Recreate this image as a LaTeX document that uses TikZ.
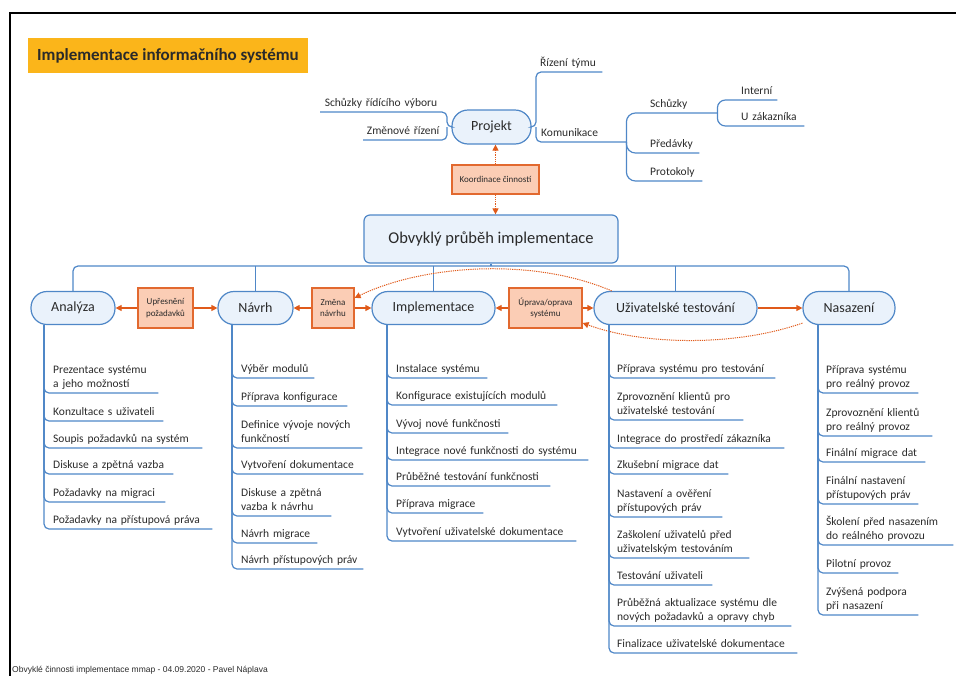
\documentclass[tikz,border=0pt]{standalone}
\usepackage{fontspec}
\setmainfont{Carlito}
\newfontfamily\footfont{Liberation Sans}
\usetikzlibrary{arrows.meta}

\definecolor{mapblue}{HTML}{4F87C7}
\definecolor{nodefill}{HTML}{EAF2FB}
\definecolor{arrowc}{HTML}{E05A1A}
\definecolor{boxfill}{HTML}{FBCDB5}
\definecolor{boxline}{HTML}{E2692F}
\definecolor{titlefill}{HTML}{FBB51A}
\definecolor{textc}{HTML}{2A2A2A}

\begin{document}
\begin{tikzpicture}[x=1pt, y=-1pt,
    branch/.style={draw=mapblue, line width=1.2pt, rounded corners=5pt},
    phase/.style={draw=mapblue, fill=nodefill, line width=1.2pt, rounded corners=16pt,
      minimum height=33pt, font=\fontsize{14}{16}\selectfont, text=textc},
    change/.style={draw=boxline, fill=boxfill, line width=1.2pt, inner sep=1pt,
      minimum height=40pt, align=center, font=\fontsize{9}{11.5}\selectfont, text=textc},
    item/.style={anchor=south west, align=left, inner xsep=0pt, inner ysep=1pt,
      font=\fontsize{11.5}{14}\selectfont, text=textc, execute at end node=\strut},
    flow/.style={draw=arrowc, line width=1.2pt, -{Triangle[length=6pt, width=6pt]}},
    loopback/.style={flow, densely dotted, line width=1pt}]

  \useasboundingbox (0,0) rectangle (956,675);

  % page frame
  \draw [line width=1.5pt] (10,690) -- (10,13) -- (970,13);

  % title
  \node [fill=titlefill, minimum width=280pt, minimum height=35pt, inner sep=2pt,
    font=\fontsize{17}{20}\bfseries\selectfont, text=textc] (title) at (168,55.5)
    {Implementace informačního systému};

  % project part
  \node [phase, minimum width=79pt, minimum height=34pt] (prj) at (491.5,127) {Projekt};
  \node [change, minimum width=87pt, minimum height=29pt] (koord) at (495.5,179.5)
    {Koordinace činností};
  \node [draw=mapblue, fill=nodefill, line width=1.2pt, rounded corners=6pt,
    minimum width=254pt, minimum height=48pt, font=\fontsize{16.5}{19}\selectfont,
    text=textc] (main) at (491,239) {Obvyklý průběh implementace};

  \draw [loopback] (koord.north) -- (koord.north |- prj.south);
  \draw [loopback] (koord.south) -- (koord.south |- main.north);

  % project branches -- left
  \node [item, align=right, text width=117pt] (schv) at (320,112) {Schůzky řídícího výboru};
  \node [item, align=right, text width=76pt] (zmen) at (363,140) {Změnové řízení};
  \coordinate (pjl) at (447,127);
  \draw [branch] (prj.west) -- (pjl) |- (schv.south west);
  \draw [branch] (pjl) |- (zmen.south west);

  % project branches -- right
  \node [item, text width=62pt] (tym) at (540,72) {Řízení týmu};
  \node [item, text width=85pt] (komu) at (541,142) {Komunikace};
  \coordinate (pjr) at (536,127);
  \draw [branch] (prj.east) -- (pjr) |- (tym.south east);
  \draw [branch] (pjr) |- (komu.south east);

  \node [item, text width=67pt] (schz) at (650,113) {Schůzky};
  \node [item, text width=49pt] (pred) at (650,153) {Předávky};
  \node [item, text width=52pt] (prot) at (650,181) {Protokoly};
  \foreach \k in {schz,pred,prot}
    \draw [branch, rounded corners=9pt] (komu.south east) |- (\k.south east);

  \node [item, text width=36pt] (intr) at (741,100) {Interní};
  \node [item, text width=63pt] (uzak) at (741,126) {U zákazníka};
  \foreach \k in {intr,uzak}
    \draw [branch, rounded corners=8pt] (schz.south east) |- (\k.south east);

  % phases
  \node [phase, minimum width=84pt]  (ana) at (73,308)    {Analýza};
  \node [phase, minimum width=75pt]  (nav) at (255.5,308) {Návrh};
  \node [phase, minimum width=123pt] (imp) at (433.5,308) {Implementace};
  \node [phase, minimum width=163pt] (uzt) at (675.5,308) {Uživatelské testování};
  \node [phase, minimum width=92pt]  (nas) at (849,308)   {Nasazení};

  % bus from the main node
  \coordinate (bus) at (491,266);
  \draw [branch] (main.south) -- (bus);
  \draw [branch] (ana.north) |- (bus) -| (nas.north);
  \foreach \k in {nav,imp,uzt}
    \draw [branch] (\k.north) -- (\k.north |- bus);

  % changes between phases
  \node [change, minimum width=55pt] (upr) at (165.5,308) {Upřesnění\\požadavků};
  \node [change, minimum width=42pt] (zmn) at (333,308)   {Změna\\návrhu};
  \node [change, minimum width=73pt] (opr) at (545.5,308) {Úprava/oprava\\systému};

  \draw [flow] (upr.west) -- (ana.east);
  \draw [flow] (upr.east) -- (nav.west);
  \draw [flow] (zmn.west) -- (nav.east);
  \draw [flow] (zmn.east) -- (imp.west);
  \draw [flow] (opr.west) -- (imp.east);
  \draw [flow] (opr.east) -- (uzt.west);
  \draw [flow] (uzt.east) -- (nas.west);

  % loops back
  \draw [loopback] (uzt.165) .. controls (530,256) and (420,266) .. (zmn.25);
  \draw [loopback] (nas.198) .. controls (730,348) and (640,344) .. (opr.-22);

  % lists
  \coordinate (anaroot) at (44,325);
  \coordinate (navroot) at (232,325);
  \coordinate (improot) at (387,325);
  \coordinate (uztroot) at (609,325);
  \coordinate (nasroot) at (818,325);

  \foreach \n/\yy/\ee/\txt [evaluate=\ee as \ww using \ee-53] in {
      1/393/158/{Prezentace systému\\a jeho možností},
      2/421/163/{Konzultace s uživateli},
      3/448/202/{Soupis požadavků na systém},
      4/474/173/{Diskuse a zpětná vazba},
      5/502/165/{Požadavky na migraci},
      6/529/212/{Požadavky na přístupová práva}}{
    \node [item, text width=\ww pt] (ana\n) at (53,\yy) {\txt};
    \draw [branch] (anaroot) |- (ana\n.south east);
  }

  \foreach \n/\yy/\ee/\txt [evaluate=\ee as \ww using \ee-241] in {
      1/378/314/{Výběr modulů},
      2/406/347/{Příprava konfigurace},
      3/448/362/{Definice vývoje nových\\funkčností},
      4/474/363/{Vytvoření dokumentace},
      5/516/331/{Diskuse a zpětná\\vazba k návrhu},
      6/543/317/{Návrh migrace},
      7/569/363/{Návrh přístupových práv}}{
    \node [item, text width=\ww pt] (nav\n) at (241,\yy) {\txt};
    \draw [branch] (navroot) |- (nav\n.south east);
  }

  \foreach \n/\yy/\ee/\txt [evaluate=\ee as \ww using \ee-396] in {
      1/378/487/{Instalace systému},
      2/405/557/{Konfigurace existujících modulů},
      3/433/508/{Vývoj nové funkčnosti},
      4/460/588/{Integrace nové funkčnosti do systému},
      5/486/550/{Průběžné testování funkčnosti},
      6/513/483/{Příprava migrace},
      7/541/576/{Vytvoření uživatelské dokumentace}}{
    \node [item, text width=\ww pt] (imp\n) at (396,\yy) {\txt};
    \draw [branch] (improot) |- (imp\n.south east);
  }

  \foreach \n/\yy/\ee/\txt [evaluate=\ee as \ww using \ee-617] in {
      1/378/775/{Příprava systému pro testování},
      2/420/743/{Zprovoznění klientů pro\\uživatelské testování},
      3/448/784/{Integrace do prostředí zákazníka},
      4/474/728/{Zkušební migrace dat},
      5/517/722/{Nastavení a ověření\\přístupových práv},
      6/558/749/{Zaškolení uživatelů před\\uživatelským testováním},
      7/585/712/{Testování uživateli},
      8/626/791/{Průběžná aktualizace systému dle\\nových požadavků a opravy chyb},
      9/653/797/{Finalizace uživatelské dokumentace}}{
    \node [item, text width=\ww pt] (uzt\n) at (617,\yy) {\txt};
    \draw [branch] (uztroot) |- (uzt\n.south east);
  }

  \foreach \n/\yy/\ee/\txt [evaluate=\ee as \ww using \ee-826] in {
      1/393/918/{Příprava systému\\pro reálný provoz},
      2/436/932/{Zprovoznění klientů\\pro reálný provoz},
      3/462/925/{Finální migrace dat},
      4/504/918/{Finální nastavení\\přístupových práv},
      5/545/953/{Školení před nasazením\\do reálného provozu},
      6/573/898/{Pilotní provoz},
      7/615/918/{Zvýšená podpora\\při nasazení}}{
    \node [item, text width=\ww pt] (nas\n) at (826,\yy) {\txt};
    \draw [branch] (nasroot) |- (nas\n.south east);
  }

  % footer
  \node [anchor=base west, inner sep=0pt, font=\footfont\fontsize{8.5}{10}\selectfont,
    text=textc] (foot) at (12,672.5)
    {Obvyklé činnosti implementace mmap - 04.09.2020 - Pavel Náplava};
\end{tikzpicture}
\end{document}
